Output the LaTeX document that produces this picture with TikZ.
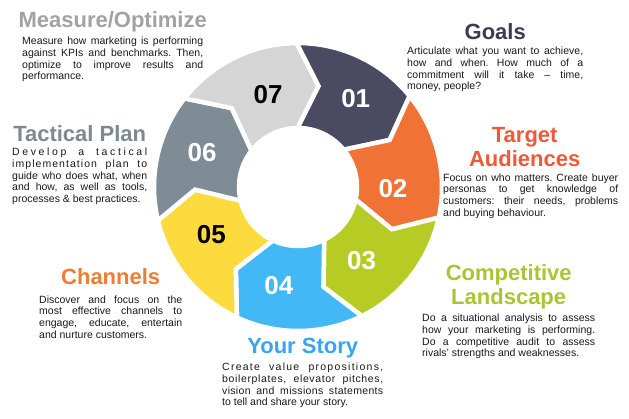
\documentclass[tikz,border=0pt]{standalone}
\usepackage{fontspec}
\setmainfont{Liberation Sans}
\usepackage{tikz}
\usetikzlibrary{positioning}
\frenchspacing
\definecolor{mkone}{HTML}{4A4A62}
\definecolor{mktwo}{HTML}{F07234}
\definecolor{mkthree}{HTML}{B6CC24}
\definecolor{mkfour}{HTML}{42B8F7}
\definecolor{mkfive}{HTML}{FDDB3E}
\definecolor{mksix}{HTML}{7F8B95}
\definecolor{mkseven}{HTML}{D5D5D5}
\definecolor{mkmeasure}{HTML}{A2A2A2}
\definecolor{mkgoals}{HTML}{3C3C54}
\definecolor{mktarget}{HTML}{F0583C}
\definecolor{mktactic}{HTML}{7D8992}
\definecolor{mkchannel}{HTML}{F07B33}
\definecolor{mkcompet}{HTML}{A9C534}
\definecolor{mkstory}{HTML}{39A4F0}
\newcommand{\spaced}[2]{{\addfontfeature{LetterSpace=#1}#2}}

\begin{document}
\begin{tikzpicture}[
    x=1pt, y=1pt,
    title/.style={font=\fontsize{22}{24}\selectfont\bfseries, align=center, inner sep=0pt},
    body/.style={font=\fontsize{10.5}{11.6}\selectfont, align=justify, inner sep=0pt, anchor=north west, text=black!90, execute at begin node={\tolerance=10000\relax}},
    num/.style={font=\fontsize{26}{26}\selectfont\bfseries, inner sep=0pt},
    seg/.style={draw=white, line width=4.5pt, line join=miter}
]
\useasboundingbox (0,0) rectangle (629,418);

% Ring
\begin{scope}[shift={(298,231)}]
\foreach \k/\col/\txt/\ang/\rad in {1/mkone/white/57/106, 2/mktwo/white/-1/95, 3/mkthree/white/-49/97, 4/mkfour/white/-101/100, 5/mkfive/black/-151/99, 6/mksix/white/160/102, 7/mkseven/black/108/97} {
  \pgfmathsetmacro{\s}{142.03-51.43*\k}
  \pgfmathsetmacro{\e}{\s-51.43}
  \filldraw[seg, fill=\col] (\s:144) arc[start angle=\s, end angle=\e, radius=144] -- (\e-12:103) -- (\e:59) arc[start angle=\e, end angle=\s, radius=59] -- (\s-12:103) -- cycle;
  \node[num, text=\txt] (n\k) at (\ang:\rad) {0\k};
}
\end{scope}

% Nodes
\node[body, text width=181pt] (measure) at (22,381) {Measure how marketing is performing\linebreak against KPIs and benchmarks. Then,\linebreak optimize to improve results and\linebreak performance.};
\node[title, text=mkmeasure, above=5pt of measure] (measureT) {Measure/Optimize};

\node[body, text width=176pt] (goals) at (407,371) {Articulate what you want to achieve,\linebreak how and when. How much of a\linebreak commitment will it take – time,\linebreak money, people?};
\node[title, text=mkgoals, above=7pt of goals] (goalsT) {Goals};

\node[body, text width=175pt] (target) at (443,244.5) {Focus on who matters. Create buyer\linebreak personas to get knowledge of\linebreak customers: their needs, problems\linebreak and buying behaviour.};
\node[title, text=mktarget, above=7pt of target, xshift=-6pt] (targetT) {Target\\Audiences};

\node[body, text width=135pt] (tactic) at (12,270) {\spaced{25}{Develop a tactical}\linebreak \spaced{10}{implementation plan to}\linebreak guide who does what, when\linebreak and how, as well as tools,\linebreak processes \& best practices.};
\node[title, text=mktactic, above=6.5pt of tactic] (tacticT) {Tactical Plan};

\node[body, text width=143pt] (channel) at (39,122.5) {Discover and focus on the\linebreak most effective channels to\linebreak engage, educate, entertain\linebreak and nurture customers.};
\node[title, text=mkchannel, above=10.5pt of channel] (channelT) {Channels};

\node[body, text width=173pt] (compet) at (422,104) {Do a situational analysis to assess\linebreak how your marketing is performing.\linebreak Do a competitive audit to assess\linebreak rivals' strengths and weaknesses.};
\node[title, text=mkcompet, above=4.4pt of compet] (competT) {Competitive\\Landscape};

\node[body, text width=161pt] (story) at (222,55) {\spaced{12}{Create value propositions,}\linebreak \spaced{6}{boilerplates, elevator pitches,}\linebreak \spaced{3}{vision and missions statements}\linebreak to tell and share your story.};
\node[title, text=mkstory, above=4.7pt of story] (storyT) {Your Story};

\end{tikzpicture}
\end{document}
